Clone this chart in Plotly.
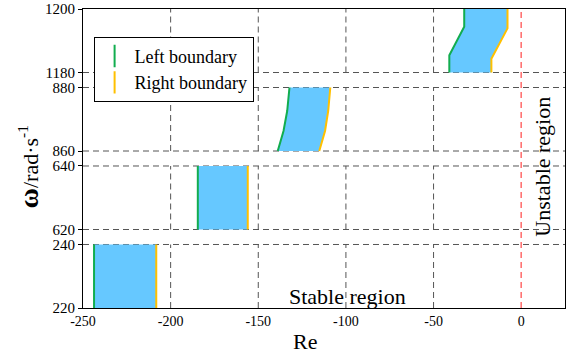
import plotly.graph_objects as go

# ---- data ----
segments = [(220, 240), (620, 640), (860, 880), (1180, 1200)]
y_tick_labels = ["220", "240", "620", "640", "860", "880", "1180", "1200"]
x_ticks = [-250, -200, -150, -100, -50, 0]
x_grid = [-200, -150, -100, -50]

# each band: (omega for left, Re left, omega for right, Re right)
band1_w_left = [220, 240];  band1_re_left = [-243.7, -243.7]
band1_w_right = [220, 240]; band1_re_right = [-208.2, -208.2]
band2_w_left = [620, 640];  band2_re_left = [-184.5, -184.5]
band2_w_right = [620, 640]; band2_re_right = [-156.0, -156.0]
band3_w_left = [860, 866.3, 872.6, 880];  band3_re_left = [-138.9, -135.6, -133.5, -132.2]
band3_w_right = [860, 866.3, 872.6, 880]; band3_re_right = [-115.2, -111.9, -110.1, -108.9]
band4_w_left = [1180, 1185.4, 1194.4, 1200];  band4_re_left = [-41.0, -41.0, -32.5, -32.5]
band4_w_right = [1180, 1184.3, 1193.9, 1200]; band4_re_right = [-17.0, -17.0, -7.8, -7.8]

bands = [
    (band1_w_left, band1_re_left, band1_w_right, band1_re_right),
    (band2_w_left, band2_re_left, band2_w_right, band2_re_right),
    (band3_w_left, band3_re_left, band3_w_right, band3_re_right),
    (band4_w_left, band4_re_left, band4_w_right, band4_re_right),
]

GAP = 4.72
SEG = 20.0
X_RANGE = [-250, 25]


def tmap(w):
    for i, (lo, hi) in enumerate(segments):
        if lo - 1e-9 <= w <= hi + 1e-9:
            return i * (SEG + GAP) + (w - lo)
    raise ValueError(w)


FILL = "#66C8FF"
GREEN = "#12AD4F"
YELLOW = "#FFC000"
GRID = "#555555"
FONT = "Liberation Serif"

fig = go.Figure()

for wl, rl, wr, rr in bands:
    xs = list(rl) + list(rr)[::-1]
    ys = [tmap(w) for w in wl] + [tmap(w) for w in wr][::-1]
    fig.add_trace(go.Scatter(x=xs, y=ys, fill="toself", fillcolor=FILL, mode="none",
                             showlegend=False, hoverinfo="skip"))
    fig.add_trace(go.Scatter(x=rl, y=[tmap(w) for w in wl], mode="lines",
                             line=dict(color=GREEN, width=2), showlegend=False))
    fig.add_trace(go.Scatter(x=rr, y=[tmap(w) for w in wr], mode="lines",
                             line=dict(color=YELLOW, width=2), showlegend=False))

# legend entries (vertical line symbols)
fig.add_trace(go.Scatter(x=[None], y=[None], mode="markers", name="Left boundary",
                         marker=dict(symbol="line-ns", size=22, line=dict(color=GREEN, width=2))))
fig.add_trace(go.Scatter(x=[None], y=[None], mode="markers", name="Right boundary",
                         marker=dict(symbol="line-ns", size=22, line=dict(color=YELLOW, width=2))))

shapes = []
for i, (lo, hi) in enumerate(segments):
    for w in (lo, hi):
        if w in (segments[0][0], segments[-1][1]):
            continue
        shapes.append(dict(type="line", xref="paper", yref="y", x0=0, x1=1,
                           y0=tmap(w), y1=tmap(w), layer="below",
                           line=dict(color=GRID, width=1, dash="6px,4px")))
for lo, hi in segments:
    for xv in x_grid:
        shapes.append(dict(type="line", xref="x", yref="y", x0=xv, x1=xv,
                           y0=tmap(lo), y1=tmap(hi), layer="below",
                           line=dict(color=GRID, width=1, dash="6px,4px")))
shapes.append(dict(type="line", xref="x", yref="paper", x0=0, x1=0, y0=0, y1=1,
                   line=dict(color="#FF6B6B", width=1.5, dash="6px,4px")))

tickvals = []
for lo, hi in segments:
    tickvals += [tmap(lo), tmap(hi)]

fig.update_layout(
    width=576, height=353,
    margin=dict(l=83, r=11, t=9, b=45),
    plot_bgcolor="white", paper_bgcolor="white",
    font=dict(family=FONT, color="black"),
    shapes=shapes,
    showlegend=True,
    legend=dict(x=0.022, y=0.907, xanchor="left", yanchor="top",
                bgcolor="white", bordercolor="black", borderwidth=1,
                font=dict(family=FONT, size=18), itemwidth=30, tracegroupgap=0),
    annotations=[
        dict(text="Stable region", xref="paper", yref="paper", x=0.549, y=0.037,
             showarrow=False, font=dict(family=FONT, size=22),
             xanchor="center", yanchor="middle"),
        dict(text="Unstable region", xref="paper", yref="paper", x=0.954, y=0.472,
             showarrow=False, textangle=-90, font=dict(family=FONT, size=22),
             xanchor="center", yanchor="middle"),
        # axis titles
        dict(text="Re", xref="paper", yref="paper", x=0.46, y=-0.112,
             showarrow=False, font=dict(family=FONT, size=22),
             xanchor="center", yanchor="middle"),
        dict(text="<span style='font-size:28px'><b>ω</b></span>/rad·s<sup>-1</sup>",
             xref="paper", yref="paper",
             x=-0.114, y=0.47, showarrow=False, textangle=-90,
             font=dict(family=FONT, size=22), xanchor="center", yanchor="middle"),
    ],
)

fig.update_xaxes(range=X_RANGE, tickvals=x_ticks, ticktext=[str(v) for v in x_ticks],
                 showgrid=False, zeroline=False, ticks="", automargin=False,
                 showline=True, linecolor="black", linewidth=1, mirror=True,
                 tickfont=dict(family=FONT, size=14))
fig.update_yaxes(range=[0, 4 * SEG + 3 * GAP], tickvals=tickvals, ticktext=y_tick_labels,
                 showgrid=False, zeroline=False, ticks="outside", ticklen=4, tickcolor="black",
                 automargin=False,
                 showline=True, linecolor="black", linewidth=1, mirror=True,
                 tickfont=dict(family=FONT, size=15))

fig.write_html("out.html", config={"displayModeBar": False},
               post_script="document.body.style.margin='0';")
